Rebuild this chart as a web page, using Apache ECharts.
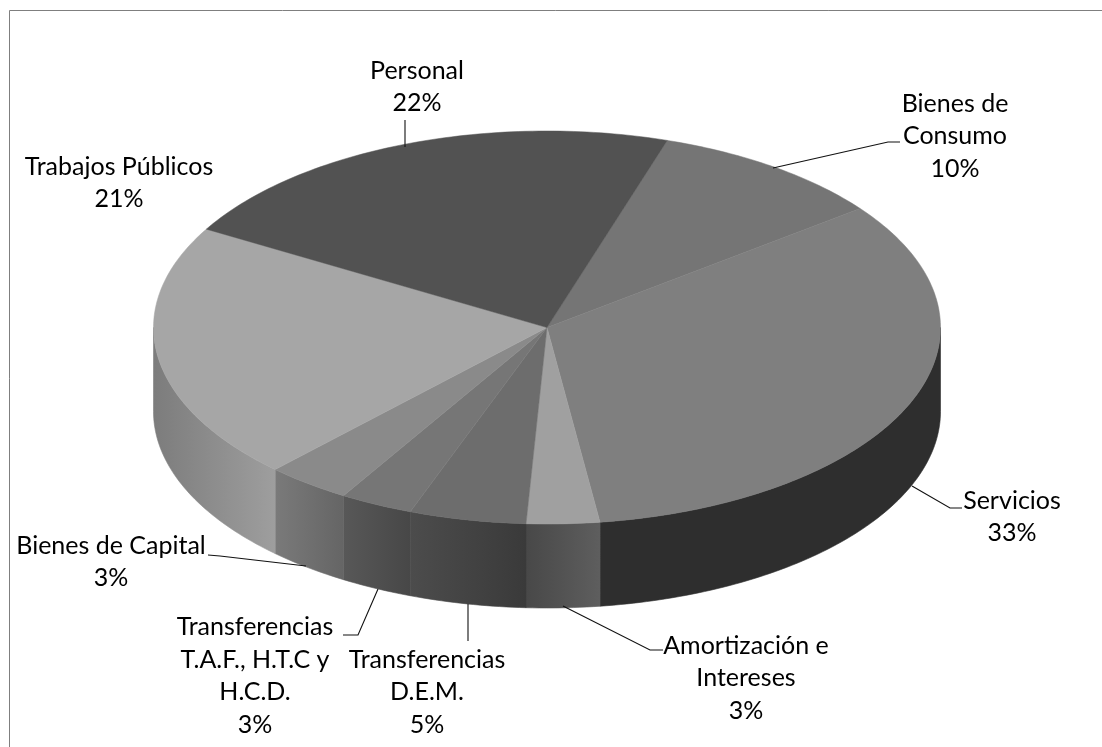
<!DOCTYPE html>
<html><head><meta charset="utf-8">
<style>html,body{margin:0;padding:0;background:#fff}#c{width:1102px;height:747px}</style>
<script src="https://cdn.jsdelivr.net/npm/echarts@6/dist/echarts.min.js"></script>
</head><body><div id="c"></div>
<script>
// Data, clockwise from the start angle (shares; labels show them rounded)
const categories = ['Bienes de\nConsumo','Servicios','Amortización e\nIntereses','Transferencias\nD.E.M.','Transferencias\nT.A.F., H.T.C y\nH.C.D.','Bienes de Capital','Trabajos Públicos','Personal'];
const values = [9.7,33.2,3,4.8,3,3.49,21.2,21.6];
// Presentation
const topColors = ['#757575','#7f7f7f','#a0a0a0','#6d6d6d','#767676','#8a8a8a','#a6a6a6','#525252'];
const wallColors = [['#2e2e2e','#2e2e2e'],['#2e2e2e','#2e2e2e'],['#5e5e5e','#484848'],['#4c4c4c','#3a3a3a'],['#585858','#474747'],['#7a7a7a','#656565'],['#7c7c7c','#9e9e9e'],['#7c7c7c','#7c7c7c']];
const labelBoxes = [[955,136],[1012,517],[746,678],[427,692],[255,676],[111,562],[119,183],[417,87]];
const leaders = [
 [[773,168],[888,142],[900,142]],
 [[912,486],[950,508],[962,508]],
 [[563,606],[650,650],[663,650]],
 [[468,604],[468,641]],
 [[378,589],[358,635],[343,635]],
 [[306,566],[220,556],[208,555]],
 null,
 [[405,120],[405,147]]
];
const pie = {cx:547,cy:327.5,rx:393.5,ry:196.5,depth:84,start:17.8};
const total = values.reduce((a,b)=>a+b,0);
const pt=(a,dy)=>{const r=a*Math.PI/180;return [pie.cx+pie.rx*Math.sin(r),pie.cy-pie.ry*Math.cos(r)+(dy||0)];};
const arc=(a,b,dy)=>{const o=[];const n=Math.max(2,Math.ceil(Math.abs(b-a)));for(let i=0;i<=n;i++)o.push(pt(a+(b-a)*i/n,dy));return o;};
function renderItem(params,api){
  const i=params.dataIndex;
  let before=0;for(let k=0;k<i;k++)before+=values[k];
  const a0=pie.start+before/total*360, a1=a0+api.value(0)/total*360;
  const ch=[];
  const w0=Math.max(a0,90), w1=Math.min(a1,270);
  if(w1>w0){
    const top=arc(w0,w1,0), bot=arc(w1,w0,pie.depth);
    const grad={type:'linear',x:0,y:0,x2:1,y2:0,colorStops:[{offset:0,color:wallColors[i][a0>=180?0:1]},{offset:1,color:wallColors[i][a0>=180?1:0]}]};
    ch.push({type:'polygon',shape:{points:top.concat(bot)},z2:1,style:{fill:grad,stroke:grad,lineWidth:0.6}});
  }
  ch.push({type:'polygon',shape:{points:[[pie.cx,pie.cy]].concat(arc(a0,a1,0))},z2:2,
    style:{fill:topColors[i],stroke:topColors[i],lineWidth:0.5}});
  if(leaders[i])ch.push({type:'polyline',shape:{points:leaders[i]},z2:3,style:{fill:null,stroke:'#111',lineWidth:1.1}});
  const lines=categories[i].split('\n').concat([Math.round(values[i])+'%']);
  const lh=32.5;const [lx,ly]=labelBoxes[i];
  lines.forEach((t,j)=>ch.push({type:'text',z2:4,style:{text:t,x:lx,y:ly+(j-(lines.length-1)/2)*lh,align:'center',verticalAlign:'middle',font:'25px Lato',fill:'#000'}}));
  return {type:'group',children:ch};
}
const chart=echarts.init(document.getElementById('c'),null,{renderer:'canvas'});
chart.setOption({
  animation:false,backgroundColor:'#fff',
  graphic:[{type:'polyline',shape:{points:[[9.5,747],[9.5,10.5],[1102,10.5]]},style:{fill:null,stroke:'#7f7f7f',lineWidth:1}}],
  series:[{type:'custom',coordinateSystem:'none',renderItem,clip:false,silent:true,
    data:categories.map((n,i)=>({name:n,value:[values[i]]}))}]
});
</script></body></html>
